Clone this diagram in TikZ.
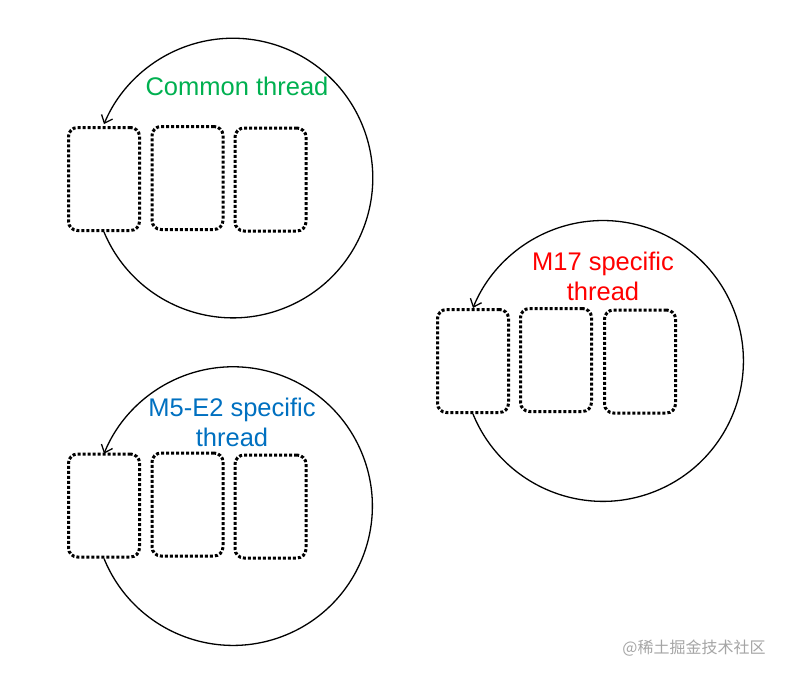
\documentclass[tikz,border=0pt]{standalone}
\usepackage{fontspec}
\setmainfont{Liberation Sans}
\newfontfamily\cjk{Noto Sans CJK SC}
\usetikzlibrary{arrows.meta}
\definecolor{cgreen}{RGB}{0,176,80}
\definecolor{cred}{RGB}{255,0,0}
\definecolor{cblue}{RGB}{0,112,192}
\definecolor{wmgray}{RGB}{165,165,165}
\tikzset{
  slot/.style={draw=black, line width=3pt, dash pattern=on 3pt off 2pt,
    rounded corners=9pt, minimum width=71pt, minimum height=103pt, inner sep=0pt},
  loop/.style={draw=black, line width=1.3pt, -{Straight Barb[length=7pt,width=12pt,line width=1.3pt]}},
  lbl/.style={font=\fontsize{25.5pt}{30pt}\selectfont, align=center, inner sep=0pt}
}
\begin{document}
\begin{tikzpicture}
\useasboundingbox (0,0) rectangle (788pt,-678pt);
% Common thread group
\node[slot] (a1) at (104pt,-179pt) {};
\node[slot] (a2) at (187.5pt,-178pt) {};
\node[slot] (a3) at (270.5pt,-179.5pt) {};
\draw[loop] (a1.south) arc[start angle=-157.3, end angle=157.3, radius=139.8pt];
\node[lbl, text=cgreen] (ta) at (237pt,-86pt) {Common thread};
% M17 group
\node[slot] (b1) at (473pt,-361pt) {};
\node[slot] (b2) at (556pt,-360pt) {};
\node[slot] (b3) at (640pt,-361.5pt) {};
\draw[loop] (b1.south) arc[start angle=-157.8, end angle=157.8, radius=140.4pt];
\node[lbl, text=cred] (tb) at (603pt,-276pt) {M17 specific\\thread};
% M5-E2 group
\node[slot] (c1) at (104pt,-505.5pt) {};
\node[slot] (c2) at (187.5pt,-504.5pt) {};
\node[slot] (c3) at (270.5pt,-506.5pt) {};
\draw[loop] (c1.south) arc[start angle=-157.9, end angle=157.9, radius=139.3pt];
\node[lbl, text=cblue] (tc) at (232pt,-422pt) {M5-E2 specific\\thread};
% watermark
\node[font=\cjk\fontsize{16pt}{18pt}\selectfont, text=wmgray, inner sep=0pt] (wm) at (694pt,-648pt) {@稀土掘金技术社区};
\end{tikzpicture}
\end{document}
